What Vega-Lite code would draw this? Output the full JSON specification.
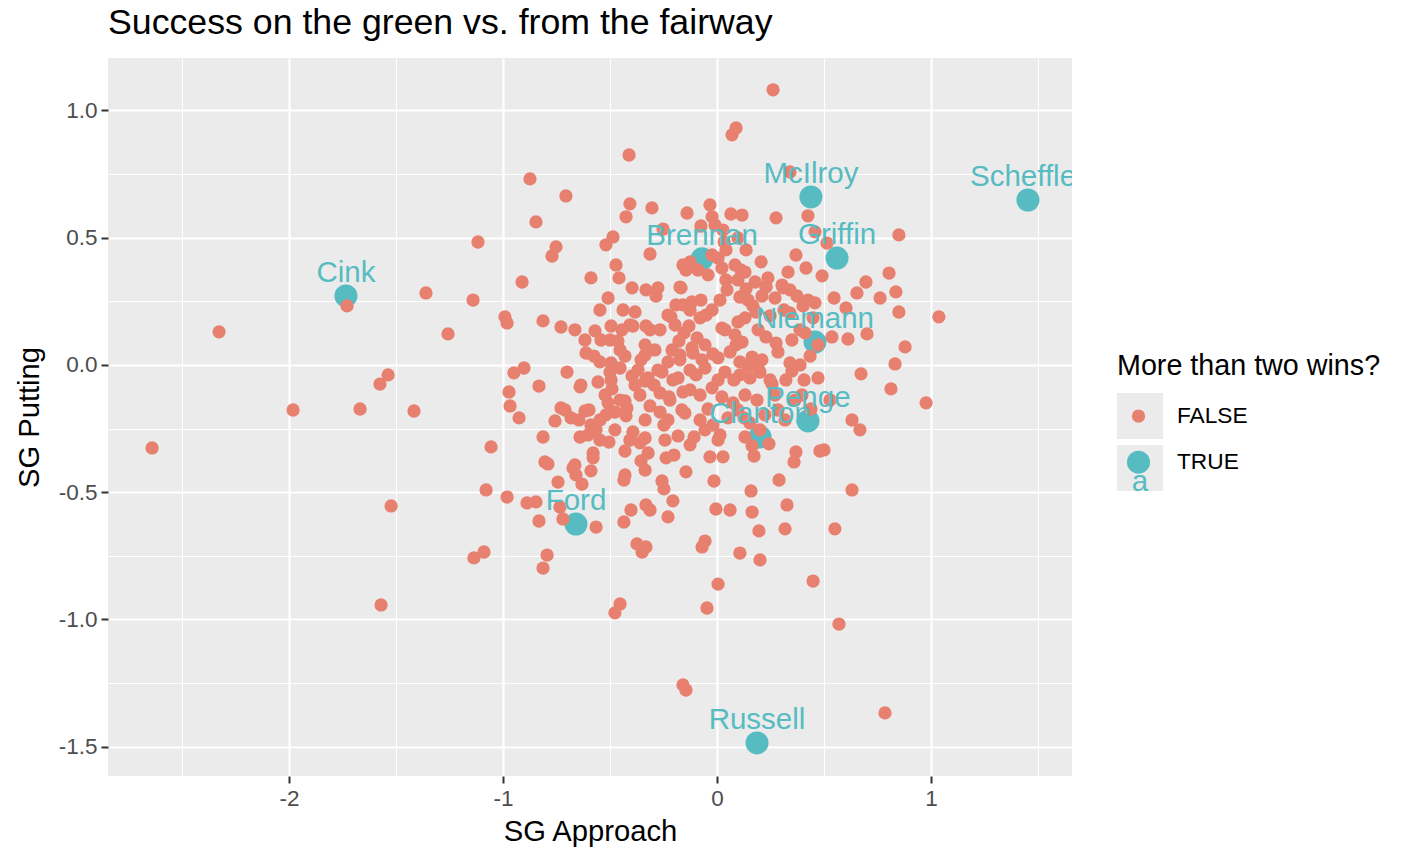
{
"$schema": "https://vega.github.io/schema/vega-lite/v6.json",
"width": 964, "height": 718,
"autosize": {"type": "none"},
"padding": {"left": 108, "top": 58, "right": 335, "bottom": 72},
"background": "white",
"title": {"text": "Success on the green vs. from the fairway", "anchor": "start", "frame": "group", "fontSize": 35.7, "font": "Liberation Sans", "fontWeight": "normal", "color": "black", "offset": 16},
"config": {"view": {"fill": "#EBEBEB", "stroke": null}, "font": "Liberation Sans"},
"resolve": {"scale": {"size": "independent", "color": "independent"}, "legend": {"size": "independent", "color": "independent"}},
"data": {"values": [
{"app":-1.734,"putt":0.271,"win":"TRUE","player":"Cink"},
{"app":-0.070,"putt":0.417,"win":"TRUE","player":"Brennan"},
{"app":0.439,"putt":0.660,"win":"TRUE","player":"McIlroy"},
{"app":1.453,"putt":0.648,"win":"TRUE","player":"Scheffler"},
{"app":0.561,"putt":0.420,"win":"TRUE","player":"Griffin"},
{"app":0.458,"putt":0.090,"win":"TRUE","player":"Niemann"},
{"app":0.425,"putt":-0.220,"win":"TRUE","player":"Penge"},
{"app":0.201,"putt":-0.283,"win":"TRUE","player":"Clanton"},
{"app":-0.659,"putt":-0.625,"win":"TRUE","player":"Ford"},
{"app":0.187,"putt":-1.485,"win":"TRUE","player":"Russell"},
{"app":-2.640,"putt":-0.326,"win":"FALSE"},
{"app":-2.327,"putt":0.130,"win":"FALSE"},
{"app":-1.981,"putt":-0.177,"win":"FALSE"},
{"app":-1.729,"putt":0.232,"win":"FALSE"},
{"app":-1.668,"putt":-0.173,"win":"FALSE"},
{"app":-1.575,"putt":-0.075,"win":"FALSE"},
{"app":-1.537,"putt":-0.039,"win":"FALSE"},
{"app":-1.523,"putt":-0.554,"win":"FALSE"},
{"app":-1.570,"putt":-0.943,"win":"FALSE"},
{"app":-1.416,"putt":-0.181,"win":"FALSE"},
{"app":-1.360,"putt":0.283,"win":"FALSE"},
{"app":-1.257,"putt":0.122,"win":"FALSE"},
{"app":-1.140,"putt":0.255,"win":"FALSE"},
{"app":-1.117,"putt":0.483,"win":"FALSE"},
{"app":-1.056,"putt":-0.322,"win":"FALSE"},
{"app":-1.079,"putt":-0.491,"win":"FALSE"},
{"app":-1.089,"putt":-0.735,"win":"FALSE"},
{"app":-1.136,"putt":-0.758,"win":"FALSE"},
{"app":-0.991,"putt":0.189,"win":"FALSE"},
{"app":-0.981,"putt":0.165,"win":"FALSE"},
{"app":-0.972,"putt":-0.106,"win":"FALSE"},
{"app":-0.967,"putt":-0.161,"win":"FALSE"},
{"app":-0.949,"putt":-0.031,"win":"FALSE"},
{"app":-0.902,"putt":-0.012,"win":"FALSE"},
{"app":-0.925,"putt":-0.208,"win":"FALSE"},
{"app":-0.981,"putt":-0.519,"win":"FALSE"},
{"app":-0.911,"putt":0.326,"win":"FALSE"},
{"app":-0.874,"putt":0.731,"win":"FALSE"},
{"app":-0.846,"putt":0.562,"win":"FALSE"},
{"app":-0.832,"putt":-0.083,"win":"FALSE"},
{"app":-0.813,"putt":0.173,"win":"FALSE"},
{"app":-0.888,"putt":-0.542,"win":"FALSE"},
{"app":-0.846,"putt":-0.538,"win":"FALSE"},
{"app":-0.813,"putt":-0.283,"win":"FALSE"},
{"app":-0.804,"putt":-0.381,"win":"FALSE"},
{"app":-0.790,"putt":-0.389,"win":"FALSE"},
{"app":-0.832,"putt":-0.613,"win":"FALSE"},
{"app":-0.794,"putt":-0.747,"win":"FALSE"},
{"app":-0.813,"putt":-0.798,"win":"FALSE"},
{"app":-0.771,"putt":0.428,"win":"FALSE"},
{"app":-0.752,"putt":0.464,"win":"FALSE"},
{"app":-0.757,"putt":-0.220,"win":"FALSE"},
{"app":-0.706,"putt":0.664,"win":"FALSE"},
{"app":-0.729,"putt":0.149,"win":"FALSE"},
{"app":-0.743,"putt":-0.460,"win":"FALSE"},
{"app":-0.734,"putt":-0.558,"win":"FALSE"},
{"app":-0.720,"putt":-0.605,"win":"FALSE"},
{"app":-0.710,"putt":-0.177,"win":"FALSE"},
{"app":-0.701,"putt":-0.028,"win":"FALSE"},
{"app":-0.673,"putt":-0.405,"win":"FALSE"},
{"app":-0.659,"putt":-0.432,"win":"FALSE"},
{"app":-0.645,"putt":-0.216,"win":"FALSE"},
{"app":-0.640,"putt":-0.086,"win":"FALSE"},
{"app":-0.631,"putt":-0.468,"win":"FALSE"},
{"app":-0.612,"putt":0.047,"win":"FALSE"},
{"app":-0.598,"putt":-0.177,"win":"FALSE"},
{"app":-0.589,"putt":0.342,"win":"FALSE"},
{"app":-0.570,"putt":0.134,"win":"FALSE"},
{"app":-0.575,"putt":0.035,"win":"FALSE"},
{"app":-0.565,"putt":-0.637,"win":"FALSE"},
{"app":-0.579,"putt":-0.365,"win":"FALSE"},
{"app":-0.565,"putt":-0.255,"win":"FALSE"},
{"app":-0.556,"putt":-0.067,"win":"FALSE"},
{"app":-0.547,"putt":0.012,"win":"FALSE"},
{"app":-0.519,"putt":0.472,"win":"FALSE"},
{"app":-0.519,"putt":-0.196,"win":"FALSE"},
{"app":-0.509,"putt":0.263,"win":"FALSE"},
{"app":-0.505,"putt":-0.303,"win":"FALSE"},
{"app":-0.500,"putt":-0.028,"win":"FALSE"},
{"app":-0.491,"putt":-0.094,"win":"FALSE"},
{"app":-0.486,"putt":0.503,"win":"FALSE"},
{"app":-0.472,"putt":0.393,"win":"FALSE"},
{"app":-0.458,"putt":0.342,"win":"FALSE"},
{"app":-0.453,"putt":0.059,"win":"FALSE"},
{"app":-0.444,"putt":0.138,"win":"FALSE"},
{"app":-0.453,"putt":-0.939,"win":"FALSE"},
{"app":-0.477,"putt":-0.974,"win":"FALSE"},
{"app":-0.435,"putt":-0.452,"win":"FALSE"},
{"app":-0.425,"putt":0.582,"win":"FALSE"},
{"app":-0.421,"putt":-0.169,"win":"FALSE"},
{"app":-0.435,"putt":-0.617,"win":"FALSE"},
{"app":-0.407,"putt":0.633,"win":"FALSE"},
{"app":-0.411,"putt":0.825,"win":"FALSE"},
{"app":-0.397,"putt":0.303,"win":"FALSE"},
{"app":-0.402,"putt":-0.570,"win":"FALSE"},
{"app":-0.393,"putt":-0.263,"win":"FALSE"},
{"app":-0.383,"putt":0.208,"win":"FALSE"},
{"app":-0.374,"putt":-0.703,"win":"FALSE"},
{"app":-0.355,"putt":0.020,"win":"FALSE"},
{"app":-0.360,"putt":-0.118,"win":"FALSE"},
{"app":-0.350,"putt":-0.735,"win":"FALSE"},
{"app":-0.332,"putt":-0.715,"win":"FALSE"},
{"app":-0.332,"putt":0.295,"win":"FALSE"},
{"app":-0.322,"putt":-0.346,"win":"FALSE"},
{"app":-0.313,"putt":0.436,"win":"FALSE"},
{"app":-0.304,"putt":0.617,"win":"FALSE"},
{"app":-0.313,"putt":0.138,"win":"FALSE"},
{"app":-0.313,"putt":-0.570,"win":"FALSE"},
{"app":-0.294,"putt":-0.079,"win":"FALSE"},
{"app":-0.285,"putt":0.271,"win":"FALSE"},
{"app":-0.276,"putt":-0.020,"win":"FALSE"},
{"app":-0.266,"putt":-0.185,"win":"FALSE"},
{"app":-0.257,"putt":-0.456,"win":"FALSE"},
{"app":-0.252,"putt":0.534,"win":"FALSE"},
{"app":-0.248,"putt":-0.236,"win":"FALSE"},
{"app":-0.248,"putt":-0.487,"win":"FALSE"},
{"app":-0.238,"putt":-0.365,"win":"FALSE"},
{"app":-0.229,"putt":-0.597,"win":"FALSE"},
{"app":-0.224,"putt":-0.126,"win":"FALSE"},
{"app":-0.215,"putt":0.189,"win":"FALSE"},
{"app":-0.210,"putt":0.059,"win":"FALSE"},
{"app":-0.206,"putt":-0.059,"win":"FALSE"},
{"app":-0.201,"putt":-0.354,"win":"FALSE"},
{"app":-0.192,"putt":0.236,"win":"FALSE"},
{"app":-0.182,"putt":-0.279,"win":"FALSE"},
{"app":-0.178,"putt":0.094,"win":"FALSE"},
{"app":-0.173,"putt":0.306,"win":"FALSE"},
{"app":-0.173,"putt":0.020,"win":"FALSE"},
{"app":-0.164,"putt":-0.177,"win":"FALSE"},
{"app":-0.159,"putt":-1.257,"win":"FALSE"},
{"app":-0.145,"putt":-1.277,"win":"FALSE"},
{"app":-0.145,"putt":-0.420,"win":"FALSE"},
{"app":-0.140,"putt":0.597,"win":"FALSE"},
{"app":-0.131,"putt":0.153,"win":"FALSE"},
{"app":-0.126,"putt":0.405,"win":"FALSE"},
{"app":-0.126,"putt":-0.098,"win":"FALSE"},
{"app":-0.117,"putt":0.248,"win":"FALSE"},
{"app":-0.112,"putt":0.047,"win":"FALSE"},
{"app":-0.107,"putt":-0.283,"win":"FALSE"},
{"app":-0.098,"putt":-0.039,"win":"FALSE"},
{"app":-0.089,"putt":0.373,"win":"FALSE"},
{"app":-0.079,"putt":0.185,"win":"FALSE"},
{"app":-0.075,"putt":0.546,"win":"FALSE"},
{"app":-0.070,"putt":-0.715,"win":"FALSE"},
{"app":-0.056,"putt":-0.692,"win":"FALSE"},
{"app":-0.047,"putt":-0.955,"win":"FALSE"},
{"app":-0.042,"putt":-0.173,"win":"FALSE"},
{"app":-0.033,"putt":0.629,"win":"FALSE"},
{"app":-0.033,"putt":-0.361,"win":"FALSE"},
{"app":-0.023,"putt":0.582,"win":"FALSE"},
{"app":-0.019,"putt":0.043,"win":"FALSE"},
{"app":-0.014,"putt":-0.456,"win":"FALSE"},
{"app":-0.005,"putt":-0.566,"win":"FALSE"},
{"app":0.005,"putt":-0.861,"win":"FALSE"},
{"app":0.005,"putt":-0.295,"win":"FALSE"},
{"app":0.014,"putt":0.255,"win":"FALSE"},
{"app":0.023,"putt":0.145,"win":"FALSE"},
{"app":0.028,"putt":-0.361,"win":"FALSE"},
{"app":0.042,"putt":0.452,"win":"FALSE"},
{"app":0.061,"putt":-0.570,"win":"FALSE"},
{"app":0.065,"putt":0.593,"win":"FALSE"},
{"app":0.070,"putt":0.904,"win":"FALSE"},
{"app":0.089,"putt":0.931,"win":"FALSE"},
{"app":0.079,"putt":-0.059,"win":"FALSE"},
{"app":0.089,"putt":0.079,"win":"FALSE"},
{"app":0.107,"putt":-0.739,"win":"FALSE"},
{"app":0.117,"putt":0.589,"win":"FALSE"},
{"app":0.126,"putt":-0.208,"win":"FALSE"},
{"app":0.136,"putt":0.299,"win":"FALSE"},
{"app":0.145,"putt":-0.004,"win":"FALSE"},
{"app":0.159,"putt":-0.495,"win":"FALSE"},
{"app":0.164,"putt":-0.578,"win":"FALSE"},
{"app":0.164,"putt":-0.318,"win":"FALSE"},
{"app":0.173,"putt":-0.358,"win":"FALSE"},
{"app":0.182,"putt":0.208,"win":"FALSE"},
{"app":0.192,"putt":-0.012,"win":"FALSE"},
{"app":0.196,"putt":-0.652,"win":"FALSE"},
{"app":0.201,"putt":-0.766,"win":"FALSE"},
{"app":0.206,"putt":0.405,"win":"FALSE"},
{"app":0.229,"putt":0.310,"win":"FALSE"},
{"app":0.243,"putt":-0.310,"win":"FALSE"},
{"app":0.248,"putt":-0.059,"win":"FALSE"},
{"app":0.262,"putt":1.081,"win":"FALSE"},
{"app":0.276,"putt":0.578,"win":"FALSE"},
{"app":0.285,"putt":-0.177,"win":"FALSE"},
{"app":0.290,"putt":-0.452,"win":"FALSE"},
{"app":0.313,"putt":0.216,"win":"FALSE"},
{"app":0.318,"putt":-0.644,"win":"FALSE"},
{"app":0.327,"putt":-0.550,"win":"FALSE"},
{"app":0.332,"putt":0.365,"win":"FALSE"},
{"app":0.341,"putt":0.758,"win":"FALSE"},
{"app":0.350,"putt":-0.024,"win":"FALSE"},
{"app":0.360,"putt":-0.381,"win":"FALSE"},
{"app":0.369,"putt":-0.342,"win":"FALSE"},
{"app":0.388,"putt":0.138,"win":"FALSE"},
{"app":0.397,"putt":-0.118,"win":"FALSE"},
{"app":0.407,"putt":-0.059,"win":"FALSE"},
{"app":0.416,"putt":0.381,"win":"FALSE"},
{"app":0.425,"putt":0.586,"win":"FALSE"},
{"app":0.435,"putt":0.035,"win":"FALSE"},
{"app":0.439,"putt":-0.173,"win":"FALSE"},
{"app":0.449,"putt":-0.849,"win":"FALSE"},
{"app":0.458,"putt":0.523,"win":"FALSE"},
{"app":0.472,"putt":-0.051,"win":"FALSE"},
{"app":0.481,"putt":-0.338,"win":"FALSE"},
{"app":0.491,"putt":0.350,"win":"FALSE"},
{"app":0.500,"putt":-0.334,"win":"FALSE"},
{"app":0.514,"putt":0.479,"win":"FALSE"},
{"app":0.528,"putt":-0.138,"win":"FALSE"},
{"app":0.537,"putt":0.110,"win":"FALSE"},
{"app":0.547,"putt":0.263,"win":"FALSE"},
{"app":0.551,"putt":-0.644,"win":"FALSE"},
{"app":0.570,"putt":-1.018,"win":"FALSE"},
{"app":0.603,"putt":0.224,"win":"FALSE"},
{"app":0.612,"putt":0.102,"win":"FALSE"},
{"app":0.631,"putt":-0.216,"win":"FALSE"},
{"app":0.631,"putt":-0.491,"win":"FALSE"},
{"app":0.654,"putt":0.283,"win":"FALSE"},
{"app":0.668,"putt":-0.255,"win":"FALSE"},
{"app":0.673,"putt":-0.035,"win":"FALSE"},
{"app":0.696,"putt":0.326,"win":"FALSE"},
{"app":0.701,"putt":0.122,"win":"FALSE"},
{"app":0.762,"putt":0.263,"win":"FALSE"},
{"app":0.785,"putt":-1.367,"win":"FALSE"},
{"app":0.804,"putt":0.361,"win":"FALSE"},
{"app":0.813,"putt":-0.094,"win":"FALSE"},
{"app":0.832,"putt":0.004,"win":"FALSE"},
{"app":0.836,"putt":0.287,"win":"FALSE"},
{"app":0.850,"putt":0.511,"win":"FALSE"},
{"app":0.850,"putt":0.208,"win":"FALSE"},
{"app":0.879,"putt":0.071,"win":"FALSE"},
{"app":0.977,"putt":-0.149,"win":"FALSE"},
{"app":1.037,"putt":0.189,"win":"FALSE"},
{"app":-0.075,"putt":0.255,"win":"FALSE"},
{"app":0.047,"putt":0.295,"win":"FALSE"},
{"app":0.107,"putt":0.267,"win":"FALSE"},
{"app":0.145,"putt":0.255,"win":"FALSE"},
{"app":0.210,"putt":0.271,"win":"FALSE"},
{"app":0.271,"putt":0.263,"win":"FALSE"},
{"app":0.341,"putt":0.295,"win":"FALSE"},
{"app":0.374,"putt":0.271,"win":"FALSE"},
{"app":0.425,"putt":0.255,"win":"FALSE"},
{"app":0.458,"putt":0.244,"win":"FALSE"},
{"app":-0.229,"putt":0.196,"win":"FALSE"},
{"app":-0.159,"putt":0.236,"win":"FALSE"},
{"app":-0.126,"putt":0.216,"win":"FALSE"},
{"app":-0.051,"putt":0.196,"win":"FALSE"},
{"app":-0.023,"putt":0.216,"win":"FALSE"},
{"app":0.098,"putt":0.169,"win":"FALSE"},
{"app":0.131,"putt":0.185,"win":"FALSE"},
{"app":0.168,"putt":0.232,"win":"FALSE"},
{"app":0.248,"putt":0.193,"win":"FALSE"},
{"app":0.341,"putt":0.204,"win":"FALSE"},
{"app":0.402,"putt":0.232,"win":"FALSE"},
{"app":0.449,"putt":0.185,"win":"FALSE"},
{"app":-0.266,"putt":0.138,"win":"FALSE"},
{"app":-0.196,"putt":0.157,"win":"FALSE"},
{"app":-0.154,"putt":0.126,"win":"FALSE"},
{"app":-0.093,"putt":0.106,"win":"FALSE"},
{"app":-0.056,"putt":0.079,"win":"FALSE"},
{"app":0.037,"putt":0.138,"win":"FALSE"},
{"app":0.084,"putt":0.118,"win":"FALSE"},
{"app":0.117,"putt":0.090,"win":"FALSE"},
{"app":0.192,"putt":0.138,"win":"FALSE"},
{"app":0.229,"putt":0.110,"win":"FALSE"},
{"app":0.276,"putt":0.086,"win":"FALSE"},
{"app":0.350,"putt":0.098,"win":"FALSE"},
{"app":0.411,"putt":0.126,"win":"FALSE"},
{"app":0.472,"putt":0.079,"win":"FALSE"},
{"app":-0.336,"putt":0.039,"win":"FALSE"},
{"app":-0.290,"putt":0.059,"win":"FALSE"},
{"app":-0.229,"putt":0.012,"win":"FALSE"},
{"app":-0.173,"putt":0.039,"win":"FALSE"},
{"app":-0.117,"putt":0.067,"win":"FALSE"},
{"app":-0.070,"putt":0.020,"win":"FALSE"},
{"app":0.005,"putt":0.028,"win":"FALSE"},
{"app":0.061,"putt":0.051,"win":"FALSE"},
{"app":0.107,"putt":0.012,"win":"FALSE"},
{"app":0.164,"putt":0.031,"win":"FALSE"},
{"app":0.210,"putt":0.020,"win":"FALSE"},
{"app":0.285,"putt":0.051,"win":"FALSE"},
{"app":0.341,"putt":0.008,"win":"FALSE"},
{"app":0.388,"putt":0.000,"win":"FALSE"},
{"app":-0.453,"putt":-0.012,"win":"FALSE"},
{"app":-0.397,"putt":-0.043,"win":"FALSE"},
{"app":-0.322,"putt":-0.051,"win":"FALSE"},
{"app":-0.257,"putt":-0.028,"win":"FALSE"},
{"app":-0.182,"putt":-0.051,"win":"FALSE"},
{"app":-0.126,"putt":-0.020,"win":"FALSE"},
{"app":-0.056,"putt":-0.012,"win":"FALSE"},
{"app":0.005,"putt":-0.059,"win":"FALSE"},
{"app":0.037,"putt":-0.028,"win":"FALSE"},
{"app":0.107,"putt":-0.039,"win":"FALSE"},
{"app":0.154,"putt":-0.051,"win":"FALSE"},
{"app":0.201,"putt":-0.028,"win":"FALSE"},
{"app":0.257,"putt":-0.075,"win":"FALSE"},
{"app":0.322,"putt":-0.059,"win":"FALSE"},
{"app":-0.523,"putt":-0.118,"win":"FALSE"},
{"app":-0.453,"putt":-0.138,"win":"FALSE"},
{"app":-0.383,"putt":-0.079,"win":"FALSE"},
{"app":-0.266,"putt":-0.110,"win":"FALSE"},
{"app":-0.220,"putt":-0.138,"win":"FALSE"},
{"app":-0.159,"putt":-0.106,"win":"FALSE"},
{"app":-0.079,"putt":-0.118,"win":"FALSE"},
{"app":-0.023,"putt":-0.090,"win":"FALSE"},
{"app":0.023,"putt":-0.126,"win":"FALSE"},
{"app":0.075,"putt":-0.149,"win":"FALSE"},
{"app":0.131,"putt":-0.118,"win":"FALSE"},
{"app":0.187,"putt":-0.138,"win":"FALSE"},
{"app":0.271,"putt":-0.118,"win":"FALSE"},
{"app":0.364,"putt":-0.138,"win":"FALSE"},
{"app":-0.547,"putt":-0.216,"win":"FALSE"},
{"app":-0.477,"putt":-0.185,"win":"FALSE"},
{"app":-0.336,"putt":-0.216,"win":"FALSE"},
{"app":-0.313,"putt":-0.161,"win":"FALSE"},
{"app":-0.229,"putt":-0.216,"win":"FALSE"},
{"app":-0.150,"putt":-0.189,"win":"FALSE"},
{"app":-0.079,"putt":-0.216,"win":"FALSE"},
{"app":-0.019,"putt":-0.236,"win":"FALSE"},
{"app":0.051,"putt":-0.208,"win":"FALSE"},
{"app":0.098,"putt":-0.177,"win":"FALSE"},
{"app":0.154,"putt":-0.228,"win":"FALSE"},
{"app":0.224,"putt":-0.196,"win":"FALSE"},
{"app":0.318,"putt":-0.216,"win":"FALSE"},
{"app":-0.640,"putt":-0.283,"win":"FALSE"},
{"app":-0.547,"putt":-0.295,"win":"FALSE"},
{"app":-0.477,"putt":-0.255,"win":"FALSE"},
{"app":-0.407,"putt":-0.295,"win":"FALSE"},
{"app":-0.336,"putt":-0.287,"win":"FALSE"},
{"app":-0.243,"putt":-0.295,"win":"FALSE"},
{"app":-0.126,"putt":-0.314,"win":"FALSE"},
{"app":-0.056,"putt":-0.255,"win":"FALSE"},
{"app":0.014,"putt":-0.275,"win":"FALSE"},
{"app":0.131,"putt":-0.283,"win":"FALSE"},
{"app":0.201,"putt":-0.255,"win":"FALSE"},
{"app":-0.145,"putt":0.373,"win":"FALSE"},
{"app":-0.042,"putt":0.354,"win":"FALSE"},
{"app":0.023,"putt":0.381,"win":"FALSE"},
{"app":0.084,"putt":0.393,"win":"FALSE"},
{"app":0.131,"putt":0.365,"win":"FALSE"},
{"app":0.178,"putt":0.326,"win":"FALSE"},
{"app":0.238,"putt":0.342,"win":"FALSE"},
{"app":0.304,"putt":0.314,"win":"FALSE"},
{"app":-0.023,"putt":0.432,"win":"FALSE"},
{"app":0.098,"putt":0.499,"win":"FALSE"},
{"app":0.136,"putt":0.452,"win":"FALSE"},
{"app":0.033,"putt":0.483,"win":"FALSE"},
{"app":-0.664,"putt":0.138,"win":"FALSE"},
{"app":-0.617,"putt":0.098,"win":"FALSE"},
{"app":-0.500,"putt":0.098,"win":"FALSE"},
{"app":-0.407,"putt":0.157,"win":"FALSE"},
{"app":-0.547,"putt":0.216,"win":"FALSE"},
{"app":-0.729,"putt":-0.169,"win":"FALSE"},
{"app":-0.636,"putt":-0.079,"win":"FALSE"},
{"app":-0.509,"putt":-0.149,"win":"FALSE"},
{"app":-0.682,"putt":-0.208,"win":"FALSE"},
{"app":-0.617,"putt":-0.181,"win":"FALSE"},
{"app":-0.589,"putt":-0.236,"win":"FALSE"},
{"app":-0.603,"putt":-0.275,"win":"FALSE"},
{"app":-0.430,"putt":-0.141,"win":"FALSE"},
{"app":-0.425,"putt":-0.200,"win":"FALSE"},
{"app":-0.360,"putt":-0.306,"win":"FALSE"},
{"app":-0.430,"putt":-0.338,"win":"FALSE"},
{"app":-0.579,"putt":-0.346,"win":"FALSE"},
{"app":-0.664,"putt":-0.393,"win":"FALSE"},
{"app":-0.589,"putt":-0.416,"win":"FALSE"},
{"app":-0.430,"putt":-0.432,"win":"FALSE"},
{"app":-0.355,"putt":-0.377,"win":"FALSE"},
{"app":-0.336,"putt":-0.413,"win":"FALSE"},
{"app":-0.439,"putt":0.216,"win":"FALSE"},
{"app":-0.495,"putt":0.153,"win":"FALSE"},
{"app":-0.393,"putt":0.153,"win":"FALSE"},
{"app":-0.332,"putt":0.153,"win":"FALSE"},
{"app":-0.542,"putt":0.098,"win":"FALSE"},
{"app":-0.463,"putt":0.094,"win":"FALSE"},
{"app":-0.336,"putt":0.079,"win":"FALSE"},
{"app":-0.495,"putt":0.008,"win":"FALSE"},
{"app":-0.430,"putt":0.035,"win":"FALSE"},
{"app":-0.369,"putt":-0.020,"win":"FALSE"},
{"app":-0.336,"putt":-0.063,"win":"FALSE"},
{"app":-0.495,"putt":-0.059,"win":"FALSE"},
{"app":-0.009,"putt":0.550,"win":"FALSE"},
{"app":0.028,"putt":0.530,"win":"FALSE"},
{"app":0.369,"putt":0.432,"win":"FALSE"},
{"app":0.112,"putt":0.373,"win":"FALSE"},
{"app":0.042,"putt":0.334,"win":"FALSE"},
{"app":0.098,"putt":0.334,"win":"FALSE"},
{"app":0.229,"putt":0.306,"win":"FALSE"},
{"app":0.308,"putt":0.303,"win":"FALSE"},
{"app":-0.168,"putt":0.303,"win":"FALSE"},
{"app":-0.276,"putt":0.303,"win":"FALSE"},
{"app":-0.159,"putt":0.393,"win":"FALSE"},
{"app":0.005,"putt":0.420,"win":"FALSE"},
{"app":-0.206,"putt":-0.534,"win":"FALSE"},
{"app":-0.332,"putt":-0.550,"win":"FALSE"}
]},
"encoding": {
"x": {"field": "app", "type": "quantitative",
"scale": {"domain": [-2.846, 1.659], "nice": false, "zero": false},
"axis": {"values": [-2.5, -2, -1.5, -1, -0.5, 0, 0.5, 1, 1.5],
"labelExpr": "datum.value % 1 === 0 ? '' + datum.value : ''",
"grid": true, "gridColor": "white",
"gridWidth": {"condition": {"test": "datum.value % 1 === 0", "value": 2.2}, "value": 1.1},
"tickColor": {"condition": {"test": "datum.value % 1 === 0", "value": "#333333"}, "value": "transparent"},
"tickSize": 7, "tickWidth": 2, "domain": false,
"labelColor": "#4D4D4D", "labelFontSize": 22.5, "labelPadding": 4, "labelFont": "Liberation Sans",
"title": "SG Approach", "titleFontSize": 29.2, "titleFontWeight": "normal", "titleColor": "black", "titlePadding": 8, "titleFont": "Liberation Sans"}},
"y": {"field": "putt", "type": "quantitative",
"scale": {"domain": [-1.615, 1.206], "nice": false, "zero": false},
"axis": {"values": [-1.5, -1.25, -1, -0.75, -0.5, -0.25, 0, 0.25, 0.5, 0.75, 1],
"labelExpr": "datum.value % 0.5 === 0 ? (datum.value < 0 ? '-' : '') + format(abs(datum.value), '.1f') : ''",
"grid": true, "gridColor": "white",
"gridWidth": {"condition": {"test": "datum.value % 0.5 === 0", "value": 2.2}, "value": 1.1},
"tickColor": {"condition": {"test": "datum.value % 0.5 === 0", "value": "#333333"}, "value": "transparent"},
"tickSize": 7, "tickWidth": 2, "domain": false,
"labelColor": "#4D4D4D", "labelFontSize": 22.5, "labelPadding": 4, "labelFont": "Liberation Sans",
"title": "SG Putting", "titleFontSize": 29.2, "titleFontWeight": "normal", "titleColor": "black", "titlePadding": 14, "titleFont": "Liberation Sans"}}
},
"layer": [
{"mark": {"type": "circle", "opacity": 1},
"encoding": {
"color": {"field": "win", "type": "nominal", "scale": {"domain": ["FALSE", "TRUE"], "range": ["#E8806F", "#56BCC2"]},
"legend": {"title": "More than two wins?", "orient": "none", "legendX": 1009, "legendY": 294, "titleLimit": 500, "zindex": 2,
"titleFontSize": 28.7, "titleFontWeight": "normal", "titleColor": "black", "titleFont": "Liberation Sans", "titlePadding": 24,
"labelFontSize": 22.7, "labelColor": "black", "labelFont": "Liberation Sans", "labelOffset": 26,
"symbolOffset": 9, "rowPadding": 18, "symbolOpacity": 1}},
"size": {"field": "win", "type": "nominal", "scale": {"domain": ["FALSE", "TRUE"], "range": [177, 531]},
"legend": {"title": "More than two wins?", "orient": "none", "legendX": 1009, "legendY": 294, "titleLimit": 500, "zindex": 2,
"titleFontSize": 28.7, "titleFontWeight": "normal", "titleColor": "black", "titleFont": "Liberation Sans", "titlePadding": 24,
"labelFontSize": 22.7, "labelColor": "black", "labelFont": "Liberation Sans", "labelOffset": 26,
"symbolOffset": 9, "rowPadding": 18, "symbolOpacity": 1}}
}},
{"transform": [{"filter": "datum.win === 'TRUE'"}],
"mark": {"type": "text", "color": "#56BCC2", "fontSize": 29.5, "font": "Liberation Sans", "baseline": "middle", "align": "center", "dy": -23, "clip": true},
"encoding": {"text": {"field": "player", "type": "nominal"}}},
{"data": {"values": [{"key": "F"}, {"key": "T"}]},
"mark": {"type": "circle", "color": "#EBEBEB", "opacity": 1},
"encoding": {
"size": {"field": "key", "type": "nominal", "scale": {"domain": ["F", "T"], "range": [2116, 2116]},
"legend": {"title": null, "orient": "none", "legendX": 1009, "legendY": 335, "zindex": 0,
"symbolType": "square", "symbolFillColor": "#EBEBEB", "symbolStrokeColor": "#EBEBEB", "symbolStrokeWidth": 0, "symbolOpacity": 1, "symbolOffset": 0,
"rowPadding": -6, "labelExpr": "datum.label === 'T' ? 'a' : ''", "labelColor": "#56BCC2", "labelFontSize": 29.5, "labelFont": "Liberation Sans", "labelAlign": "center", "labelBaseline": "top", "labelOffset": -23,
"encode": {"symbols": {"update": {"fill": {"value": "#EBEBEB"}, "strokeWidth": {"value": 0}, "opacity": {"value": 1}, "shape": {"value": "square"}}}}}}
}}
]
}
